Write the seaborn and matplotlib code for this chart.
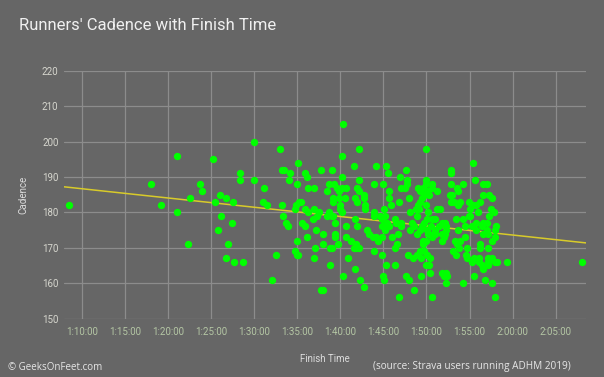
import matplotlib
matplotlib.use("Agg")
import matplotlib.pyplot as plt
from matplotlib.ticker import FuncFormatter
import pandas as pd
import seaborn as sns

# finish time in minutes, cadence in steps per minute
finish_min = [
    68.5, 78.0, 79.2, 81.1, 81.1, 82.3, 82.6, 83.7, 84.0, 85.2,
    85.5, 85.8, 86.1, 86.2, 86.7, 86.7, 87.0, 87.4, 87.6, 87.7,
    88.4, 88.4, 88.7, 90.0, 90.0, 91.0, 91.1, 91.5, 92.1, 92.5,
    93.0, 100.3, 102.2, 109.9, 100.2, 95.1, 93.2, 93.5, 94.2, 95.9,
    96.1, 97.8, 99.1, 101.6, 104.1, 105.3, 105.5, 107.6, 106.9, 107.8,
    107.5, 109.9, 94.0, 95.0, 100.2, 102.2, 103.9, 105.0, 98.7, 99.3,
    99.6, 99.9, 100.2, 100.7, 96.3, 97.0, 98.5, 102.0, 102.2, 105.6,
    109.0, 109.3, 109.9, 110.2, 110.6, 111.2, 99.2, 99.2, 99.9, 100.5,
    101.7, 101.9, 102.8, 102.7, 105.7, 106.8, 108.0, 109.7, 109.5, 110.3,
    108.8, 109.0, 109.3, 109.9, 111.2, 111.6, 95.2, 95.4, 94.9, 94.8,
    93.2, 93.4, 93.7, 93.9, 95.9, 96.3, 96.9, 96.8, 97.3, 97.5,
    95.6, 95.9, 98.7, 98.5, 99.0, 99.2, 100.0, 100.0, 100.2, 99.4,
    101.7, 102.9, 102.9, 102.0, 103.9, 103.9, 104.6, 104.8, 105.2, 104.9,
    105.4, 105.7, 106.3, 106.5, 107.0, 108.1, 108.9, 108.3, 109.7, 110.1,
    110.6, 111.0, 109.5, 110.1, 110.5, 111.0, 111.4, 112.1, 112.3, 95.0,
    96.2, 98.0, 99.4, 99.4, 100.7, 101.3, 101.8, 97.1, 98.0, 98.8,
    99.0, 99.7, 101.6, 101.8, 102.2, 94.8, 95.0, 97.0, 98.8, 100.9,
    103.9, 104.8, 105.3, 106.4, 106.3, 106.6, 107.9, 108.4, 108.9, 109.3,
    109.4, 109.7, 110.0, 110.3, 110.4, 110.1, 101.7, 100.3, 102.3, 102.8,
    105.0, 105.1, 107.6, 108.0, 109.4, 110.4, 106.8, 108.6, 110.6, 97.8,
    98.0, 107.0, 107.8, 109.6, 110.6, 105.9, 105.1, 95.1, 97.2, 100.7,
    109.1, 110.2, 110.8, 110.2, 103.1, 103.3, 103.8, 104.1, 104.4, 104.8,
    105.2, 106.0, 106.7, 107.1, 108.1, 108.5, 108.9, 109.3, 109.6, 109.6,
    110.0, 110.6, 111.0, 115.4, 112.8, 112.8, 115.6, 112.8, 114.3, 116.6,
    117.0, 113.6, 113.7, 112.7, 113.0, 116.6, 117.3, 117.6, 112.8, 113.2,
    113.9, 113.7, 114.9, 115.1, 115.4, 115.7, 116.2, 117.5, 117.8, 116.0,
    114.9, 115.1, 113.4, 114.2, 117.3, 117.0, 115.7, 116.6, 118.1, 117.9,
    111.8, 112.2, 112.3, 113.7, 114.5, 115.3, 115.8, 116.4, 117.0, 117.2,
    116.6, 111.8, 112.0, 111.8, 117.9, 117.6, 113.3, 113.9, 113.5, 114.5,
    113.8, 114.7, 116.2, 116.2, 117.1, 113.1, 113.4, 114.6, 114.7, 115.3,
    115.5, 116.1, 116.1, 116.4, 116.6, 117.1, 117.2, 117.6, 117.9, 118.2,
    117.2, 119.3, 128.1, 111.8, 112.0, 112.3, 112.4, 112.3, 114.2, 115.5,
    116.8, 117.6, 118.0,
]
cadence = [
    182, 188, 182, 196, 180, 171, 184, 188, 186, 195,
    183, 175, 185, 179, 184, 167, 171, 177, 183, 166,
    191, 189, 166, 200, 189, 183, 187, 182, 161, 168,
    198, 205, 198, 198, 196, 194, 192, 192, 191, 191,
    190, 192, 192, 193, 193, 193, 191, 192, 190, 189,
    187, 189, 189, 188, 190, 189, 188, 188, 188, 188,
    187, 186, 187, 187, 187, 187, 186, 187, 186, 186,
    187, 186, 188, 186, 188, 186, 184, 183, 184, 184,
    184, 183, 185, 184, 184, 183, 184, 185, 184, 185,
    181, 182, 183, 182, 181, 181, 183, 183, 182, 181,
    182, 179, 177, 176, 181, 180, 181, 178, 179, 180,
    177, 176, 180, 179, 179, 179, 182, 181, 180, 177,
    178, 182, 181, 176, 180, 179, 179, 178, 179, 176,
    177, 176, 178, 177, 177, 180, 179, 177, 177, 178,
    178, 178, 176, 175, 176, 175, 176, 174, 175, 172,
    173, 174, 174, 173, 173, 172, 171, 170, 171, 170,
    170, 171, 170, 170, 170, 169, 168, 167, 165, 167,
    169, 168, 165, 165, 170, 171, 168, 167, 168, 169,
    167, 169, 165, 165, 167, 168, 164, 162, 161, 159,
    162, 161, 162, 161, 162, 163, 156, 158, 156, 158,
    158, 187, 188, 187, 187, 182, 181, 168, 175, 176,
    181, 180, 174, 174, 175, 174, 173, 173, 172, 173,
    175, 173, 174, 176, 175, 176, 174, 175, 172, 171,
    172, 173, 174, 194, 192, 191, 189, 188, 188, 188,
    188, 187, 186, 185, 185, 185, 185, 184, 183, 183,
    183, 182, 183, 181, 182, 182, 183, 181, 180, 180,
    179, 179, 178, 178, 179, 177, 177, 177, 176, 175,
    177, 177, 176, 175, 176, 176, 175, 176, 175, 174,
    174, 174, 173, 172, 173, 172, 172, 172, 171, 173,
    170, 170, 171, 170, 170, 169, 168, 168, 167, 166,
    167, 167, 166, 165, 164, 167, 166, 167, 166, 166,
    165, 166, 166, 163, 162, 163, 162, 160, 160, 162,
    161, 160, 156,
]

x_ticks = [70, 75, 80, 85, 90, 95, 100, 105, 110, 115, 120, 125]
y_ticks = [150, 160, 170, 180, 190, 200, 210, 220]

BG = "#666666"


def hms(m, _pos=None):
    s = int(round(m * 60))
    return f"{s // 3600}:{(s % 3600) // 60:02d}:{s % 60:02d}"


df = pd.DataFrame({"finish": finish_min, "cadence": cadence})

sns.set_style("dark")
plt.rcParams["font.family"] = ["Roboto", "DejaVu Sans"]

fig, ax = plt.subplots(figsize=(6.04, 3.77), dpi=100)
fig.patch.set_facecolor(BG)
ax.set_facecolor(BG)
fig.subplots_adjust(left=0.106, right=0.970, bottom=0.155, top=0.8125)

ax.set_xlim(67.95, 128.5)
ax.set_ylim(150, 220)

# trend line over the full axis width, points on top
sns.regplot(data=df, x="finish", y="cadence", scatter=False, ci=None,
            truncate=False, color="#d8cb2a",
            line_kws={"linewidth": 1.1, "zorder": 2}, ax=ax)
sns.scatterplot(data=df, x="finish", y="cadence", color="#00ff00", s=28,
                linewidth=0, zorder=3, ax=ax)

ax.set_xlim(67.95, 128.5)
ax.set_ylim(150, 220)
ax.set_xticks(x_ticks)
ax.set_yticks(y_ticks)
ax.xaxis.set_major_formatter(FuncFormatter(hms))
ax.grid(True, color="#8c8c8c", linewidth=0.9)
ax.set_axisbelow(True)
for sp in ax.spines.values():
    sp.set_visible(False)
ax.tick_params(axis="x", length=0, pad=6, labelsize=7, labelcolor="#b4c6a4")
ax.tick_params(axis="y", length=0, pad=4, labelsize=7, labelcolor="#d6d6ce")

ax.set_xlabel("Finish Time", fontsize=7, color="#dcdcdc", labelpad=12)
ax.set_ylabel("Cadence", fontsize=7, color="#dcdcdc", labelpad=10)

fig.text(19 / 604, 1 - 26 / 377, "Runners' Cadence with Finish Time",
         fontsize=12, color="#f0f0f0", va="center", ha="left")
fig.text(8 / 604, 1 - 367 / 377, "© GeeksOnFeet.com", fontsize=7,
         color="#e6e6e6", va="center", ha="left", family=["Open Sans", "DejaVu Sans"])
fig.text(571 / 604, 1 - 367 / 377, "(source: Strava users running ADHM 2019)",
         fontsize=7.2, color="#e6e6e6", va="center", ha="right",
         family=["Open Sans", "DejaVu Sans"])

fig.savefig("out.png", dpi=100, facecolor=BG)
